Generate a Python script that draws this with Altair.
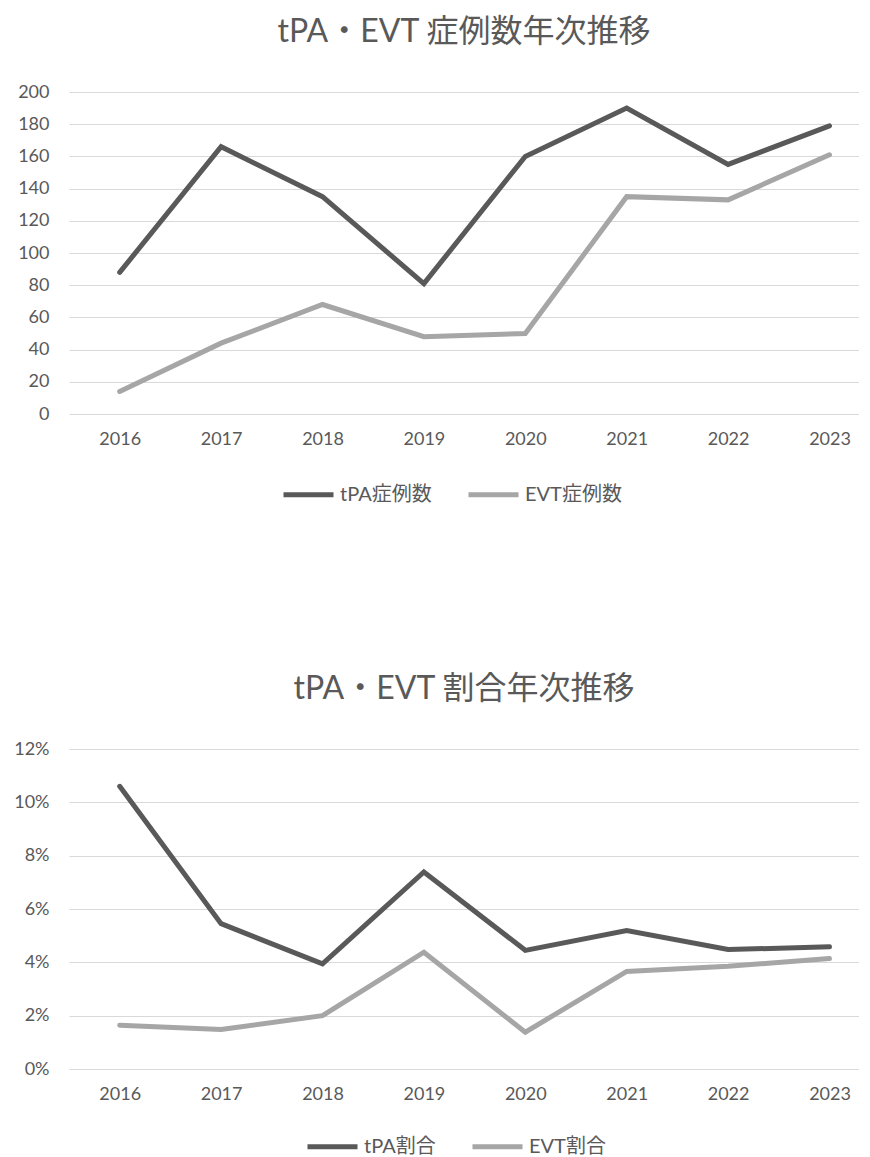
import altair as alt
import pandas as pd

years = [2016, 2017, 2018, 2019, 2020, 2021, 2022, 2023]
tpa_counts = [88, 166, 135, 81, 160, 190, 155, 179]
evt_counts = [14, 44, 68, 48, 50, 135, 133, 161]
tpa_rate = [0.106, 0.0545, 0.0394, 0.0739, 0.0445, 0.0519, 0.0448, 0.0458]
evt_rate = [0.0164, 0.0148, 0.0200, 0.0438, 0.0138, 0.0366, 0.0385, 0.0414]

count_series = ["tPA症例数", "EVT症例数"]
rate_series = ["tPA割合", "EVT割合"]
count_ticks = [0, 20, 40, 60, 80, 100, 120, 140, 160, 180, 200]
rate_ticks = [0, 0.02, 0.04, 0.06, 0.08, 0.10, 0.12]

df1 = pd.DataFrame(
    {"year": years * 2,
     "value": tpa_counts + evt_counts,
     "series": [count_series[0]] * 8 + [count_series[1]] * 8}
)
df2 = pd.DataFrame(
    {"year": years * 2,
     "value": tpa_rate + evt_rate,
     "series": [rate_series[0]] * 8 + [rate_series[1]] * 8}
)

FONT = "Lato, 'Noto Sans CJK JP', sans-serif"
LABEL_COLOR = "#595959"
COLORS = ["#595959", "#a6a6a6"]
W = 790
XDOM = [2015.5, 2015.5 + W / 101.4]


def make(df, series, title, ydom, yticks, yfmt, h, legx, legy):
    x = alt.X(
        "year:Q",
        scale=alt.Scale(domain=XDOM, nice=False, zero=False),
        axis=alt.Axis(values=years, format="d", grid=False, domain=False,
                      ticks=False, labelFlush=False, labelOverlap=False,
                      labelPadding=16, title=None),
    )
    y = alt.Y(
        "value:Q",
        scale=alt.Scale(domain=ydom, nice=False),
        axis=alt.Axis(values=yticks, format=yfmt, grid=True, domain=False,
                      ticks=False, labelPadding=20, title=None),
    )
    color = alt.Color(
        "series:N",
        scale=alt.Scale(domain=series, range=COLORS),
        sort=series,
        legend=alt.Legend(title=None, orient="none", direction="horizontal",
                          legendX=legx, legendY=legy,
                          symbolType="stroke", symbolSize=2500,
                          symbolStrokeWidth=5, columnPadding=26,
                          labelOffset=4, labelFontSize=20,
                          labelFont=FONT, labelColor=LABEL_COLOR),
    )
    return (
        alt.Chart(df)
        .mark_line(strokeWidth=5, strokeCap="round")
        .encode(x=x, y=y, color=color, order="year:Q")
        .properties(
            width=W, height=h,
            title=alt.TitleParams(title, fontSize=32, font=FONT,
                                  color=LABEL_COLOR, fontWeight="normal",
                                  anchor="middle", offset=34),
        )
    )


top = make(df1, count_series, "tPA・EVT 症例数年次推移", [0, 200],
           count_ticks, "d", 322, 212, 375)
bottom = make(df2, rate_series, "tPA・EVT 割合年次推移", [0, 0.12],
              rate_ticks, ".0%", 320, 236, 370)

chart = (
    alt.vconcat(top, bottom, spacing=168)
    .resolve_scale(color="independent")
    .resolve_legend(color="independent")
    .properties(padding={"left": 5, "right": 0, "top": 8, "bottom": 0})
    .configure_view(stroke=None)
    .configure_axis(labelFont=FONT, labelFontSize=18, labelColor=LABEL_COLOR,
                    gridColor="#d9d9d9", gridWidth=1)
)

chart.save("out.html", embed_options={"renderer": "svg", "actions": False})
